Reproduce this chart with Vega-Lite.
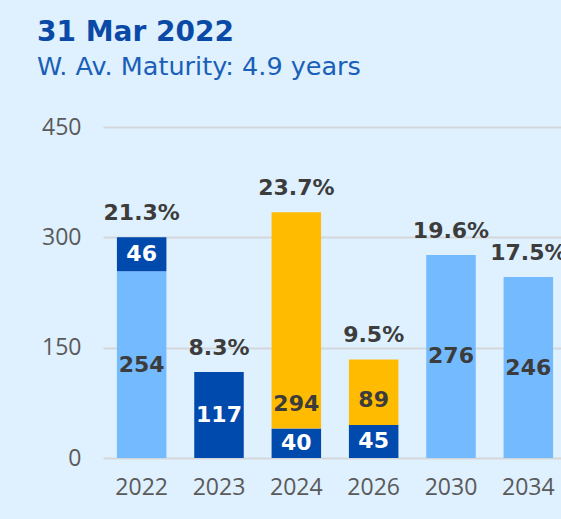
{
  "$schema": "https://vega.github.io/schema/vega-lite/v6.json",
  "width": 458,
  "height": 331,
  "autosize": {"type": "none"},
  "padding": {"left": 103, "top": 127, "right": 0, "bottom": 61},
  "background": "#dff0fe",
  "title": {
    "text": "31 Mar 2022",
    "subtitle": "W. Av. Maturity: 4.9 years",
    "anchor": "start",
    "frame": "group",
    "dx": -66,
    "font": "DejaVu Sans",
    "fontSize": 28,
    "fontWeight": "bold",
    "color": "#0a4aa6",
    "subtitleFont": "DejaVu Sans",
    "subtitleFontSize": 25.5,
    "subtitleColor": "#1a5fb8",
    "subtitlePadding": 8,
    "offset": 36
  },
  "config": {
    "view": {"stroke": null},
    "axis": {"labelFont": "Open Sans", "labelFontSize": 23, "labelColor": "#5a5a5a", "title": null, "domain": false, "ticks": false}
  },
  "datasets": {
    "segments": [
      {"year": "2022", "series": "Light", "value": 254},
      {"year": "2022", "series": "Dark", "value": 46},
      {"year": "2023", "series": "Dark", "value": 117},
      {"year": "2024", "series": "Dark", "value": 40},
      {"year": "2024", "series": "Yellow", "value": 294},
      {"year": "2026", "series": "Dark", "value": 45},
      {"year": "2026", "series": "Yellow", "value": 89},
      {"year": "2030", "series": "Light", "value": 276},
      {"year": "2034", "series": "Light", "value": 246}
    ],
    "totals": [
      {"year": "2022", "total": 300, "pct": "21.3%"},
      {"year": "2023", "total": 117, "pct": "8.3%"},
      {"year": "2024", "total": 334, "pct": "23.7%"},
      {"year": "2026", "total": 134, "pct": "9.5%"},
      {"year": "2030", "total": 276, "pct": "19.6%"},
      {"year": "2034", "total": 246, "pct": "17.5%"}
    ]
  },
  "layer": [
    {
      "data": {"name": "segments"},
      "transform": [
        {"calculate": "indexof(['Light','Dark','Yellow'], datum.series)", "as": "rank"},
        {"stack": "value", "groupby": ["year"], "sort": [{"field": "rank", "order": "ascending"}], "as": ["y0", "y1"]}
      ],
      "mark": {"type": "bar"},
      "encoding": {
        "x": {
          "field": "year", "type": "nominal", "sort": null,
          "scale": {"range": [0, 464], "paddingInner": 0.36, "paddingOuter": 0.18},
          "axis": {"labelAngle": 0, "labelPadding": 18, "grid": false}
        },
        "y": {
          "field": "y0", "type": "quantitative",
          "scale": {"domain": [0, 450]},
          "axis": {"values": [0, 150, 300, 450], "labelPadding": 22, "gridColor": "#d3d7db", "gridWidth": 2}
        },
        "y2": {"field": "y1"},
        "color": {
          "field": "series", "type": "nominal",
          "scale": {"domain": ["Light", "Dark", "Yellow"], "range": ["#74baff", "#004aad", "#ffbb00"]},
          "legend": null
        }
      }
    },
    {
      "data": {"name": "segments"},
      "transform": [
        {"calculate": "indexof(['Light','Dark','Yellow'], datum.series)", "as": "rank"},
        {"stack": "value", "groupby": ["year"], "sort": [{"field": "rank", "order": "ascending"}], "as": ["y0", "y1"]},
        {"filter": "datum.series !== 'Yellow'"},
        {"calculate": "(datum.y0 + datum.y1) / 2", "as": "ymid"}
      ],
      "mark": {"type": "text", "font": "DejaVu Sans", "fontWeight": "bold", "fontSize": 22, "baseline": "middle", "align": "center"},
      "encoding": {
        "x": {"field": "year", "type": "nominal", "sort": null},
        "y": {"field": "ymid", "type": "quantitative"},
        "text": {"field": "value", "type": "quantitative"},
        "color": {"condition": {"test": "datum.series === 'Dark'", "value": "#ffffff"}, "value": "#3c3c3c"}
      }
    },
    {
      "data": {"name": "segments"},
      "transform": [
        {"calculate": "indexof(['Light','Dark','Yellow'], datum.series)", "as": "rank"},
        {"stack": "value", "groupby": ["year"], "sort": [{"field": "rank", "order": "ascending"}], "as": ["y0", "y1"]},
        {"filter": "datum.series === 'Yellow'"}
      ],
      "mark": {"type": "text", "font": "DejaVu Sans", "fontWeight": "bold", "fontSize": 22, "baseline": "middle", "align": "center", "dy": -25, "color": "#3c3c3c"},
      "encoding": {
        "x": {"field": "year", "type": "nominal", "sort": null},
        "y": {"field": "y0", "type": "quantitative"},
        "text": {"field": "value", "type": "quantitative"}
      }
    },
    {
      "data": {"name": "totals"},
      "mark": {"type": "text", "font": "DejaVu Sans", "fontWeight": "bold", "fontSize": 22, "baseline": "alphabetic", "align": "center", "dy": -17, "color": "#3c3c3c"},
      "encoding": {
        "x": {"field": "year", "type": "nominal", "sort": null},
        "y": {"field": "total", "type": "quantitative"},
        "text": {"field": "pct", "type": "nominal"}
      }
    }
  ]
}
